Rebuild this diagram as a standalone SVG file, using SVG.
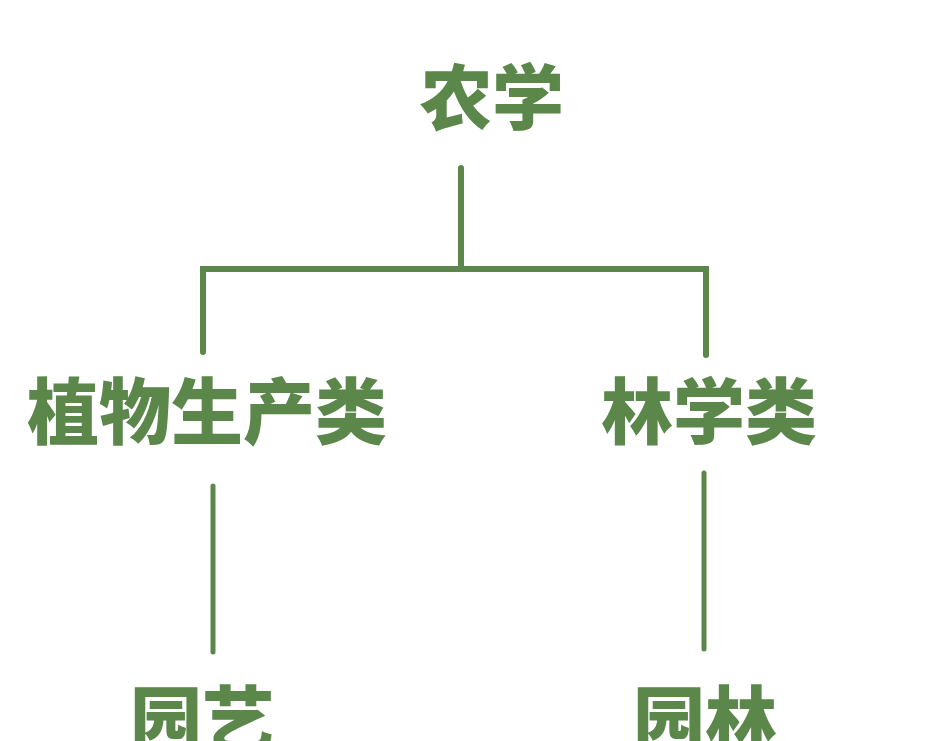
<svg xmlns="http://www.w3.org/2000/svg" width="942" height="741" viewBox="0 0 942 741">
<style>
.t{font-family:"Noto Sans CJK SC","Noto Sans CJK JP",sans-serif;font-weight:900;font-size:72px;fill:#5b874b;text-anchor:middle}
.c{stroke:#5b874b;stroke-width:6;stroke-linecap:round;fill:none}
</style>
<rect width="942" height="741" fill="#ffffff"/>
<g id="connectors">
<path class="c" d="M461 168 V268"/>
<path class="c" d="M203 352 V269 H706 V355"/>
<path class="c" d="M213 486 V652" style="stroke-width:5"/>
<path class="c" d="M704 473 V649" style="stroke-width:5"/>
</g>
<g id="n-nongxue"><text class="t" x="492" y="124">农学</text></g>
<g id="n-zhiwu"><text class="t" x="207" y="438">植物生产类</text></g>
<g id="n-linxue"><text class="t" x="709" y="438">林学类</text></g>
<g id="n-yuanyi"><text class="t" x="202" y="746">园艺</text></g>
<g id="n-yuanlin"><text class="t" x="705" y="746">园林</text></g>
</svg>
